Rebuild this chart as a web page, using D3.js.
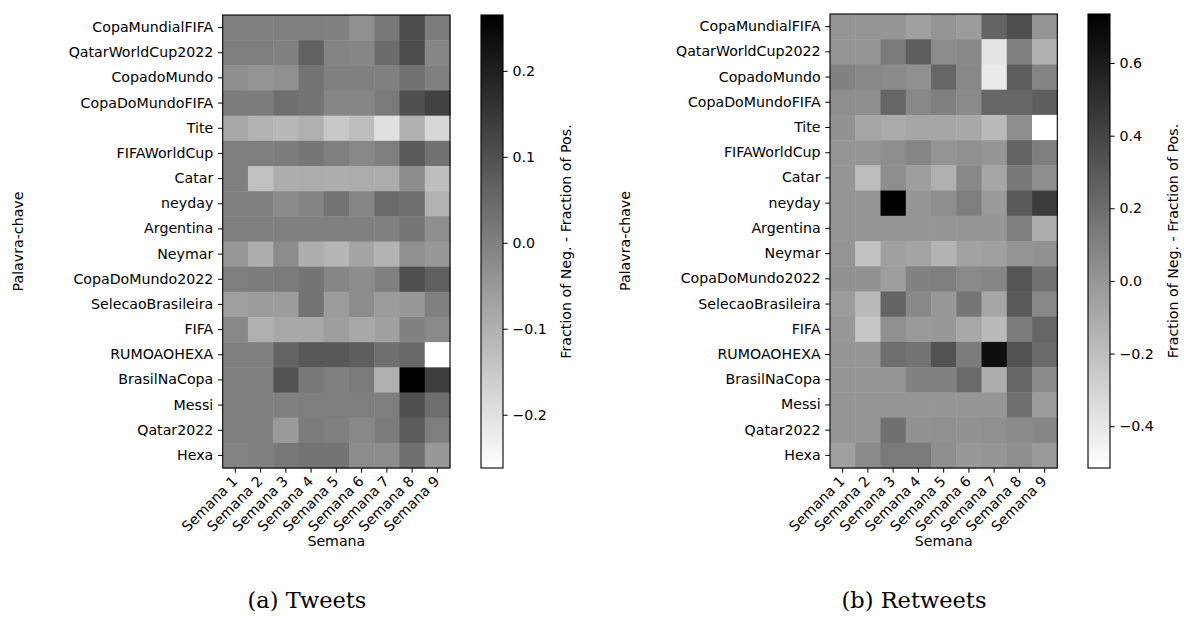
<!DOCTYPE html>
<html>
<head>
    <meta charset="utf-8">
    <script src="https://cdn.jsdelivr.net/npm/d3@7"></script>
    <title>Heatmaps semana x palavra-chave</title>
    <style>
        body { margin: 0; background: #ffffff; }
        svg text { font-family: "DejaVu Sans", sans-serif; fill: #000; }
    </style>
</head>
<body>
<script>

    //Data
    var keywords = ["CopaMundialFIFA", "QatarWorldCup2022", "CopadoMundo", "CopaDoMundoFIFA",
        "Tite", "FIFAWorldCup", "Catar", "neyday", "Argentina", "Neymar", "CopaDoMundo2022",
        "SelecaoBrasileira", "FIFA", "RUMOAOHEXA", "BrasilNaCopa", "Messi", "Qatar2022", "Hexa"];

    var weeks = ["Semana 1", "Semana 2", "Semana 3", "Semana 4", "Semana 5",
        "Semana 6", "Semana 7", "Semana 8", "Semana 9"];

    // (a) Tweets
    var tweetValues = [
        [0, 0, 0.005, 0.005, 0, -0.033, 0.017, 0.108, 0.009],
        [0.005, 0.005, -0.004, 0.062, -0.008, -0.012, 0.042, 0.108, -0.012],
        [-0.029, -0.041, -0.033, 0.025, 0, 0, 0, 0.029, 0],
        [0.009, 0.009, 0.038, 0.025, -0.012, -0.012, 0.013, 0.100, 0.129],
        [-0.082, -0.103, -0.115, -0.099, -0.148, -0.128, -0.198, -0.099, -0.181],
        [0, 0.005, 0.009, 0.021, 0, -0.016, 0.005, 0.079, 0.029],
        [0, -0.132, -0.095, -0.091, -0.095, -0.091, -0.091, -0.024, -0.128],
        [0, 0, -0.020, -0.008, 0.025, -0.012, 0.046, 0.033, -0.103],
        [0, 0, 0, 0, 0, 0, 0, 0.021, -0.029],
        [-0.049, -0.095, -0.024, -0.095, -0.111, -0.074, -0.107, -0.033, -0.049],
        [0.005, 0.009, 0.013, 0.025, -0.012, -0.024, 0, 0.100, 0.067],
        [-0.066, -0.057, -0.057, 0.025, -0.057, -0.024, -0.057, -0.049, 0],
        [-0.016, -0.099, -0.082, -0.082, -0.062, -0.082, -0.066, -0.004, -0.020],
        [0, 0, 0.058, 0.083, 0.083, 0.071, 0.033, 0.050, -0.262],
        [0, 0, 0.095, 0.017, 0, 0.013, -0.099, 0.265, 0.137],
        [0, 0, 0, 0.005, 0.005, 0.005, 0.005, 0.100, 0.038],
        [0, 0, -0.053, 0.009, 0, -0.016, 0.009, 0.075, 0.005],
        [-0.008, 0, 0.017, 0.025, 0.025, -0.024, -0.024, 0.033, -0.049]
    ];

    // (b) Retweets
    var retweetValues = [
        [0, 0, 0, -0.049, 0.010, -0.029, 0.245, 0.353, 0.010],
        [0, 0, 0.137, 0.274, 0.049, 0.069, -0.382, 0.098, -0.127],
        [0.098, 0.069, 0.059, 0.029, 0.235, 0.069, -0.412, 0.274, 0.088],
        [0.039, 0.039, 0.235, 0.069, 0.108, 0.059, 0.235, 0.235, 0.274],
        [0.020, -0.078, -0.098, -0.078, -0.078, -0.088, -0.176, 0.039, -0.515],
        [0, 0, 0.039, 0.078, 0.010, 0.029, 0, 0.245, 0.118],
        [0, -0.186, 0.039, -0.039, -0.127, 0.069, -0.078, 0.147, 0.039],
        [0, 0, 0.735, 0, 0.039, 0.118, -0.020, 0.294, 0.441],
        [0, 0, 0, 0, 0, 0, 0, 0.118, -0.108],
        [0.010, -0.216, -0.049, -0.069, -0.147, -0.059, -0.049, 0.010, 0.020],
        [0.020, 0.020, -0.039, 0.098, 0.118, 0.059, 0.078, 0.314, 0.176],
        [-0.029, -0.176, 0.245, 0.069, -0.010, 0.157, -0.078, 0.294, 0.069],
        [-0.010, -0.235, 0.029, -0.020, -0.010, -0.088, -0.176, 0.127, 0.235],
        [0, 0, 0.196, 0.167, 0.333, 0.127, 0.666, 0.333, 0.216],
        [0, 0, 0, 0.098, 0.098, 0.216, -0.118, 0.235, 0.059],
        [0, 0, 0, 0, 0, 0, 0, 0.186, -0.029],
        [0, 0, 0.186, 0.020, 0.029, 0.020, 0.029, 0.059, 0.078],
        [-0.049, 0.059, 0.137, 0.137, 0.039, -0.010, 0, 0.039, -0.020]
    ];

    var tweetTicks = [0.2, 0.1, 0.0, -0.1, -0.2];
    var retweetTicks = [0.6, 0.4, 0.2, 0.0, -0.2, -0.4];

    var captions = ["(a) Tweets", "(b) Retweets"];

    ////////////////////////
    // SVG
    ////////////////////////
    var width = 1184;
    var height = 635;
    var fontSize = 14.2;
    var tickLen = 4.7;

    var svg = d3.select("body")
                .append("svg")
                .attr("width", width)
                .attr("height", height);

    var defs = svg.append("defs");

    drawPanel(tweetValues, tweetTicks, captions[0], {
        id: "a", x0: 222.7, x1: 450, y0: 15, y1: 468,
        cbX: 481, cbW: 22, ylabelX: 23, cbLabelX: 571, captionX: 307
    });

    drawPanel(retweetValues, retweetTicks, captions[1], {
        id: "b", x0: 830, x1: 1057.3, y0: 14, y1: 468,
        cbX: 1088, cbW: 22, ylabelX: 630, cbLabelX: 1178, captionX: 914
    });

    function drawPanel(values, ticks, caption, p){

        var cells = [];
        values.forEach(function(row, i){
            row.forEach(function(v, j){
                cells.push({k: keywords[i], w: weeks[j], v: v});
            });
        });

        var ext = d3.extent(cells, function(d){ return d.v; });

        var xScale = d3.scaleBand().domain(weeks).range([p.x0, p.x1]);
        var yScale = d3.scaleBand().domain(keywords).range([p.y0, p.y1]);

        // gray_r colormap: low = white, high = black
        var color = d3.scaleLinear().domain(ext).range(["#ffffff", "#000000"]);

        var g = svg.append("g");

        g.selectAll("rect.cell")
            .data(cells)
            .enter()
            .append("rect")
            .attr("class", "cell")
            .attr("x", function(d){ return xScale(d.w); })
            .attr("y", function(d){ return yScale(d.k); })
            .attr("width", xScale.bandwidth() + 0.5)
            .attr("height", yScale.bandwidth() + 0.5)
            .style("fill", function(d){ return color(d.v); });

        // frame
        g.append("rect")
            .attr("x", p.x0).attr("y", p.y0)
            .attr("width", p.x1 - p.x0).attr("height", p.y1 - p.y0)
            .style("fill", "none").style("stroke", "#000").style("stroke-width", 1.1);

        // y axis
        var yAxis = g.append("g")
            .attr("transform", "translate(" + p.x0 + ",0)")
            .call(d3.axisLeft(yScale).tickSize(tickLen).tickPadding(4.7));
        yAxis.select(".domain").remove();
        yAxis.selectAll("text").style("font-size", fontSize + "px");
        yAxis.selectAll("line").style("stroke", "#000");

        // x axis, rotated labels
        var xAxis = g.append("g")
            .attr("transform", "translate(0," + p.y1 + ")")
            .call(d3.axisBottom(xScale).tickSize(tickLen));
        xAxis.select(".domain").remove();
        xAxis.selectAll("line").style("stroke", "#000");
        xAxis.selectAll("text")
            .style("font-size", fontSize + "px")
            .attr("text-anchor", "end")
            .attr("dy", null)
            .attr("y", 0)
            .attr("transform", "translate(3,14) rotate(-45)");

        // axis titles
        g.append("text")
            .attr("x", (p.x0 + p.x1) / 2)
            .attr("y", 546)
            .attr("text-anchor", "middle")
            .style("font-size", fontSize + "px")
            .text("Semana");

        g.append("text")
            .attr("transform", "translate(" + p.ylabelX + "," + ((p.y0 + p.y1) / 2) + ") rotate(-90)")
            .attr("text-anchor", "middle")
            .style("font-size", fontSize + "px")
            .text("Palavra-chave");

        // colorbar
        var grad = defs.append("linearGradient")
            .attr("id", "grad" + p.id)
            .attr("x1", 0).attr("y1", 1).attr("x2", 0).attr("y2", 0);
        grad.append("stop").attr("offset", "0%").attr("stop-color", color(ext[0]));
        grad.append("stop").attr("offset", "100%").attr("stop-color", color(ext[1]));

        g.append("rect")
            .attr("x", p.cbX).attr("y", p.y0)
            .attr("width", p.cbW).attr("height", p.y1 - p.y0)
            .style("fill", "url(#grad" + p.id + ")")
            .style("stroke", "#000").style("stroke-width", 1.1);

        var cScale = d3.scaleLinear().domain(ext).range([p.y1, p.y0]);

        var cAxis = g.append("g")
            .attr("transform", "translate(" + (p.cbX + p.cbW) + ",0)")
            .call(d3.axisRight(cScale).tickValues(ticks).tickFormat(d3.format(".1f"))
                .tickSize(tickLen).tickPadding(4.7));
        cAxis.select(".domain").remove();
        cAxis.selectAll("line").style("stroke", "#000");
        cAxis.selectAll("text").style("font-size", fontSize + "px");

        g.append("text")
            .attr("transform", "translate(" + p.cbLabelX + "," + ((p.y0 + p.y1) / 2) + ") rotate(-90)")
            .attr("text-anchor", "middle")
            .style("font-size", fontSize + "px")
            .text("Fraction of Neg. - Fraction of Pos.");

        // caption under the panel
        svg.append("text")
            .attr("x", p.captionX)
            .attr("y", 608)
            .attr("text-anchor", "middle")
            .style("font-family", "'DejaVu Serif', serif")
            .style("font-size", "22.5px")
            .text(caption);
    }

</script>
</body>
</html>
